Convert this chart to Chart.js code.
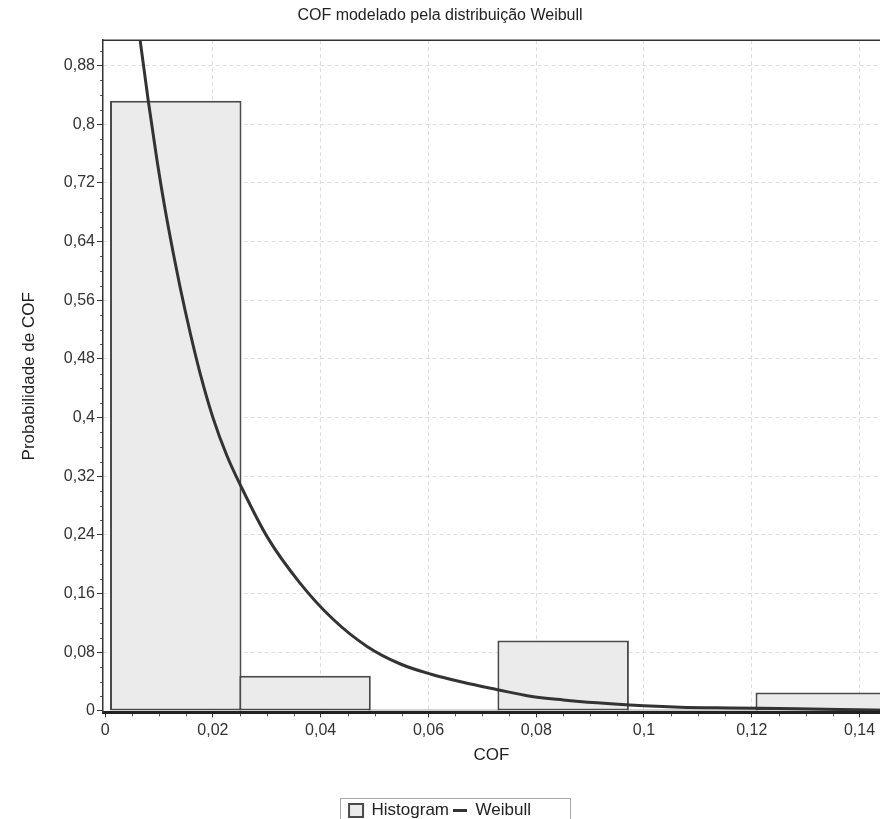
<!DOCTYPE html>
<html>
<head>
<meta charset="utf-8">
<title>COF modelado pela distribuição Weibull</title>
<script src="https://cdn.jsdelivr.net/npm/chart.js@4.4.1/dist/chart.umd.min.js"></script>
<style>
  html, body { margin: 0; padding: 0; background: #fff; overflow: hidden; }
  #wrap { position: relative; width: 880px; height: 829px; }
</style>
</head>
<body>
<div id="wrap"><canvas id="cofChart"></canvas></div>
<script>
// histograma (centro das classes) e frequência relativa
const BIN_CENTERS = [0.0131, 0.0371, 0.0610, 0.0850, 0.1090, 0.1329];
const BIN_WIDTH = 0.0240;
const HIST_VALUES = [0.832, 0.048, 0.002, 0.096, 0.002, 0.025];

// curva Weibull
const WEIBULL_X = [0.0050, 0.0065, 0.0080, 0.0096, 0.0111, 0.0127, 0.0139, 0.0158, 0.0176, 0.0200,
                   0.0226, 0.0251, 0.0301, 0.0362, 0.0423, 0.0486, 0.0548, 0.0605, 0.0664, 0.0728,
                   0.0789, 0.0850, 0.0913, 0.0974, 0.1067, 0.1160, 0.1284, 0.1440];
const WEIBULL_Y = [1.000, 0.914, 0.832, 0.752, 0.685, 0.622, 0.578, 0.515, 0.461, 0.400,
                   0.348, 0.308, 0.237, 0.174, 0.125, 0.088, 0.064, 0.050, 0.039, 0.029,
                   0.020, 0.015, 0.011, 0.008, 0.005, 0.004, 0.003, 0.001];

// eixos
const X_TICKS = [0, 0.02, 0.04, 0.06, 0.08, 0.1, 0.12, 0.14];
const X_TICK_LABELS = ['0', '0,02', '0,04', '0,06', '0,08', '0,1', '0,12', '0,14'];
const Y_TICKS = [0, 0.08, 0.16, 0.24, 0.32, 0.4, 0.48, 0.56, 0.64, 0.72, 0.8, 0.88];
const Y_TICK_LABELS = ['0', '0,08', '0,16', '0,24', '0,32', '0,4', '0,48', '0,56', '0,64', '0,72', '0,8', '0,88'];

const COLORS = {
    barFill: '#ebebeb',
    barEdge: '#4a4a4a',
    curve: '#333333',
    grid: '#dedede',
    axis: '#333333',
    text: '#333333'
};

Chart.defaults.font.family = "'Liberation Sans', Arial, sans-serif";
Chart.defaults.color = COLORS.text;

// Chart.js mede a largura das barras pelo passo das marcas do eixo x;
// as barras cobrem a classe inteira (+ ~2px para as bordas se sobreporem)
const TICK_STEP = X_TICKS[1] - X_TICKS[0];
const BAR_PCT = (BIN_WIDTH + 0.0004) / TICK_STEP;

// borda superior, marcas menores e moldura da legenda
const framePlugin = {
    id: 'frame',
    afterDatasetsDraw(chart) {
        const { ctx, chartArea: a, scales: { x, y } } = chart;
        ctx.save();
        ctx.strokeStyle = COLORS.axis;
        ctx.lineWidth = 1.5;
        ctx.beginPath();
        ctx.moveTo(a.left, a.top);
        ctx.lineTo(a.right, a.top);
        ctx.stroke();

        ctx.lineWidth = 1;
        ctx.strokeStyle = '#555';
        ctx.beginPath();
        for (let i = 1; i * 0.02 < y.max; i++) {
            if (i % 4 === 0) continue;
            const py = Math.round(y.getPixelForValue(i * 0.02)) + 0.5;
            ctx.moveTo(a.left - 3, py);
            ctx.lineTo(a.left, py);
        }
        for (let i = 1; i * 0.005 < x.max; i++) {
            if (i % 4 === 0) continue;
            const px = Math.round(x.getPixelForValue(i * 0.005)) + 0.5;
            ctx.moveTo(px, a.bottom);
            ctx.lineTo(px, a.bottom + 4);
        }
        ctx.stroke();
        ctx.restore();
    },
    afterDraw(chart) {
        const lg = chart.legend;
        const hb = lg.legendHitBoxes;
        if (!hb || !hb.length) return;
        const last = hb[hb.length - 1];
        const left = Math.round(hb[0].left - 9) + 0.5;
        const right = Math.round(last.left + last.width + 39) + 0.5;
        const top = Math.round(lg.top) + 0.5;
        const ctx = chart.ctx;
        ctx.save();
        ctx.strokeStyle = '#a8a8a8';
        ctx.lineWidth = 1;
        ctx.strokeRect(left, top, right - left, lg.bottom - top + 10);
        ctx.restore();
    }
};

const ctx = document.getElementById('cofChart');

new Chart(ctx, {
    type: 'bar',
    data: {
        datasets: [
            {
                type: 'bar',
                label: 'Histogram',
                data: BIN_CENTERS.map((c, i) => ({ x: c, y: HIST_VALUES[i] })),
                backgroundColor: COLORS.barFill,
                borderColor: COLORS.barEdge,
                borderWidth: 2,
                borderSkipped: false,
                barPercentage: BAR_PCT,
                categoryPercentage: 1,
                pointStyle: 'rect',
                order: 1
            },
            {
                type: 'line',
                label: 'Weibull',
                data: WEIBULL_X.map((v, i) => ({ x: v, y: WEIBULL_Y[i] })),
                borderColor: COLORS.curve,
                backgroundColor: COLORS.curve,
                borderWidth: 3,
                pointRadius: 0,
                pointStyle: 'line',
                cubicInterpolationMode: 'monotone',
                fill: false,
                clip: 0,
                order: 0
            }
        ]
    },
    options: {
        responsive: true,
        maintainAspectRatio: false,
        animation: false,
        layout: { padding: 0 },
        plugins: {
            tooltip: { enabled: false },
            title: {
                display: true,
                text: 'COF modelado pela distribuição Weibull',
                color: '#222',
                font: { size: 16, weight: 'normal' },
                padding: { top: 6, bottom: 15 }
            },
            legend: {
                position: 'bottom',
                labels: {
                    usePointStyle: true,
                    boxHeight: 13,
                    pointStyleWidth: 14,
                    padding: 4,
                    color: '#222',
                    font: { size: 17 },
                    sort: (a, b) => a.datasetIndex - b.datasetIndex
                }
            }
        },
        scales: {
            x: {
                type: 'linear',
                offset: false,
                min: -0.0004,
                max: 0.1438,
                afterBuildTicks: s => { s.ticks = X_TICKS.map(v => ({ value: v })); },
                ticks: {
                    callback: (v, i) => X_TICK_LABELS[i],
                    font: { size: 16 },
                    padding: 4,
                    maxRotation: 0,
                    autoSkip: false
                },
                grid: {
                    offset: false,
                    color: c => (c.tick && c.tick.value === 0) ? 'rgba(0,0,0,0)' : COLORS.grid,
                    lineWidth: 1,
                    tickLength: 5,
                    tickColor: COLORS.axis,
                    tickWidth: 1
                },
                border: { color: '#222', width: 3, dash: [4, 3], z: 1 },
                title: {
                    display: true,
                    text: 'COF',
                    color: '#222',
                    font: { size: 17 },
                    padding: { top: 1, bottom: 32 }
                }
            },
            y: {
                type: 'linear',
                min: -0.002,
                max: 0.9146,
                afterBuildTicks: s => { s.ticks = Y_TICKS.map(v => ({ value: v })); },
                afterFit: s => { s.width = 103; },
                ticks: {
                    callback: (v, i) => Y_TICK_LABELS[i],
                    font: { size: 16 },
                    padding: 2
                },
                grid: {
                    color: c => (c.tick && c.tick.value === 0) ? 'rgba(0,0,0,0)' : COLORS.grid,
                    lineWidth: 1,
                    tickLength: 6,
                    tickColor: COLORS.axis,
                    tickWidth: 1
                },
                border: { color: COLORS.axis, width: 1.5, dash: [4, 3], z: 1 },
                title: {
                    display: true,
                    text: 'Probabilidade de COF',
                    color: '#222',
                    font: { size: 17 },
                    padding: { top: 19, bottom: 0 }
                }
            }
        }
    },
    plugins: [framePlugin]
});
</script>
</body>
</html>
